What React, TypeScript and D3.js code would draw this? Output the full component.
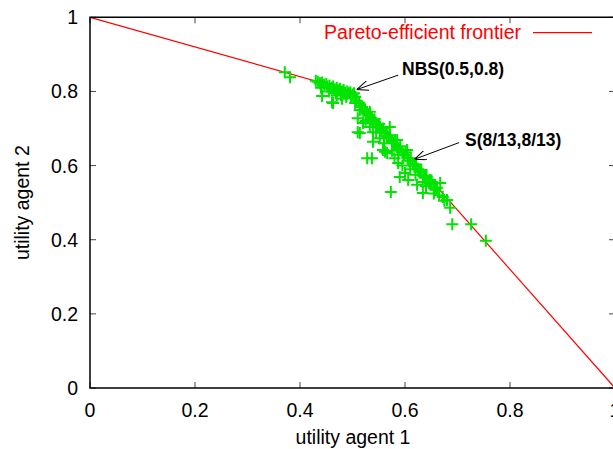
import React from "react";
import * as d3 from "d3";

const xTicks = [0, 0.2, 0.4, 0.6, 0.8, 1];
const yTicks = [0, 0.2, 0.4, 0.6, 0.8, 1];
const xTickLabels = ["0", "0.2", "0.4", "0.6", "0.8", "1"];
const yTickLabels = ["0", "0.2", "0.4", "0.6", "0.8", "1"];

const frontierX = [0, 0.5, 1];
const frontierY = [1, 0.8, 0];

const agent1 = [
  0.371, 0.381,
  0.43, 0.434, 0.438, 0.442, 0.446, 0.45, 0.452, 0.456, 0.46, 0.463, 0.466, 0.47, 0.473, 0.476, 0.48, 0.483, 0.486, 0.49, 0.493, 0.496, 0.5, 0.503,
  0.44, 0.455, 0.468, 0.478, 0.488, 0.497,
  0.442, 0.461, 0.48, 0.47,
  0.505, 0.508, 0.512, 0.515, 0.518, 0.521, 0.524, 0.527, 0.53, 0.533, 0.536, 0.539, 0.542, 0.545, 0.548, 0.551,
  0.555, 0.558, 0.561, 0.565, 0.568, 0.571, 0.575, 0.578, 0.581, 0.585, 0.588, 0.591, 0.595, 0.598, 0.601,
  0.605, 0.608, 0.611, 0.615, 0.618, 0.621, 0.625, 0.628, 0.631, 0.635, 0.638, 0.641, 0.645, 0.648, 0.651,
  0.655, 0.658, 0.661, 0.665, 0.675,
  0.505, 0.514, 0.51, 0.52, 0.51, 0.533, 0.539, 0.552, 0.562, 0.571, 0.585, 0.558, 0.566, 0.528, 0.537,
  0.587, 0.604, 0.562, 0.587, 0.6, 0.59, 0.606, 0.573, 0.634, 0.623, 0.634, 0.648, 0.667, 0.672, 0.68,
  0.686, 0.69, 0.726, 0.754,
  0.463, 0.514, 0.533, 0.552, 0.539, 0.545, 0.525, 0.56, 0.575, 0.58, 0.595, 0.61, 0.62, 0.64, 0.655,
];
const agent2 = [
  0.852, 0.838,
  0.829, 0.826, 0.822, 0.824, 0.818, 0.82, 0.813, 0.816, 0.81, 0.813, 0.806, 0.81, 0.803, 0.807, 0.8, 0.804, 0.797, 0.8, 0.795, 0.798, 0.792, 0.795,
  0.81, 0.8, 0.795, 0.79, 0.785, 0.782,
  0.788, 0.771, 0.78, 0.79,
  0.785, 0.775, 0.77, 0.76, 0.758, 0.748, 0.752, 0.74, 0.735, 0.745, 0.728, 0.72, 0.725, 0.71, 0.703, 0.712,
  0.695, 0.7, 0.69, 0.68, 0.675, 0.682, 0.665, 0.66, 0.668, 0.65, 0.645, 0.652, 0.635, 0.628, 0.636,
  0.62, 0.613, 0.62, 0.605, 0.598, 0.603, 0.59, 0.583, 0.588, 0.572, 0.567, 0.573, 0.557, 0.55, 0.556,
  0.54, 0.535, 0.54, 0.52, 0.505,
  0.769, 0.75, 0.728, 0.715, 0.69, 0.723, 0.69, 0.704, 0.688, 0.704, 0.669, 0.642, 0.634, 0.62, 0.62,
  0.629, 0.642, 0.637, 0.607, 0.58, 0.569, 0.561, 0.529, 0.556, 0.548, 0.526, 0.561, 0.553, 0.515, 0.507,
  0.486, 0.442, 0.442, 0.397,
  0.769, 0.688, 0.704, 0.674, 0.664, 0.69, 0.72, 0.66, 0.64, 0.62, 0.6, 0.59, 0.575, 0.545, 0.525,
];

const W = 613;
const H = 449;
const M = { left: 90, top: 17.3, right: 615, bottom: 388 };
const FONT = "'Liberation Sans', Arial, sans-serif";

export default function App() {
  const x = d3.scaleLinear().domain([0, 1]).range([M.left, M.right]);
  const y = d3.scaleLinear().domain([0, 1]).range([M.bottom, M.top]);
  const frontier = d3
    .line<number>()
    .x((d) => x(d))
    .y((_, i) => y(frontierY[i]))(frontierX) as string;
  const pts = agent1.map((a, i) => [x(a), y(agent2[i])]);
  const arm = 6;

  return (
    <svg width={W} height={H} style={{ position: "absolute", left: 0, top: 0 }} fontFamily={FONT}>
      <rect width={W} height={H} fill="#fff" />
      <defs>
        <clipPath id="plot">
          <rect x={M.left} y={M.top} width={M.right - M.left} height={M.bottom - M.top} />
        </clipPath>
        <marker id="arr" viewBox="0 0 12 10" refX="12" refY="5" markerWidth="12" markerHeight="10" markerUnits="userSpaceOnUse" orient="auto">
          <path d="M0,0 L12,5 L0,10" fill="none" stroke="#000" strokeWidth={1} />
        </marker>
      </defs>
      {xTicks.map((t, i) => (
        <g key={"xt" + i} stroke="#444" strokeWidth={1}>
          <line x1={x(t)} x2={x(t)} y1={M.bottom} y2={M.bottom - 6} />
          <line x1={x(t)} x2={x(t)} y1={M.top} y2={M.top + 6} />
        </g>
      ))}
      {yTicks.map((t, i) => (
        <g key={"yt" + i} stroke="#444" strokeWidth={1}>
          <line x1={M.left} x2={M.left + 6} y1={y(t)} y2={y(t)} />
          <line x1={M.right} x2={M.right - 6} y1={y(t)} y2={y(t)} />
        </g>
      ))}
      {xTicks.map((t, i) => (
        <text key={"xl" + i} x={x(t)} y={417} fontSize={19.5} textAnchor="middle" fill="#000">
          {xTickLabels[i]}
        </text>
      ))}
      {yTicks.map((t, i) => (
        <text key={"yl" + i} x={78} y={y(t) + 7} fontSize={19.5} textAnchor="end" fill="#000">
          {yTickLabels[i]}
        </text>
      ))}
      <text x={353} y={444} fontSize={19.5} textAnchor="middle" fill="#000">
        utility agent 1
      </text>
      <text
        transform={`translate(29,${(M.top + M.bottom) / 2}) rotate(-90)`}
        fontSize={19.5}
        textAnchor="middle"
        fill="#000"
      >
        utility agent 2
      </text>
      <g clipPath="url(#plot)">
        <path d={frontier} fill="none" stroke="#ff0000" strokeWidth={1.2} />
        <g stroke="#00e400" strokeWidth={2}>
          {pts.map(([px, py], i) => (
            <g key={"p" + i}>
              <line x1={px - arm} x2={px + arm} y1={py} y2={py} />
              <line x1={px} x2={px} y1={py - arm} y2={py + arm} />
            </g>
          ))}
        </g>
      </g>
      <path
        d={`M${M.right},${M.top}H${M.left}V${M.bottom}H${M.right}`}
        fill="none"
        stroke="#000"
        strokeWidth={1.5}
      />
      <text x={521} y={39} fontSize={19.5} textAnchor="end" fill="#ff0000">
        Pareto-efficient frontier
      </text>
      <line x1={533} x2={592} y1={32.7} y2={32.7} stroke="#ff0000" strokeWidth={1.2} />
      <text x={402} y={75} fontSize={17.5} fontWeight="bold" fill="#000">
        NBS(0.5,0.8)
      </text>
      <line x1={x(0.587)} y1={y(0.844)} x2={x(0.508)} y2={y(0.805)} stroke="#000" strokeWidth={1} markerEnd="url(#arr)" />
      <text x={465} y={146} fontSize={17.5} fontWeight="bold" fill="#000">
        S(8/13,8/13)
      </text>
      <line x1={x(0.703)} y1={y(0.662)} x2={x(0.618)} y2={y(0.617)} stroke="#000" strokeWidth={1} markerEnd="url(#arr)" />
    </svg>
  );
}
